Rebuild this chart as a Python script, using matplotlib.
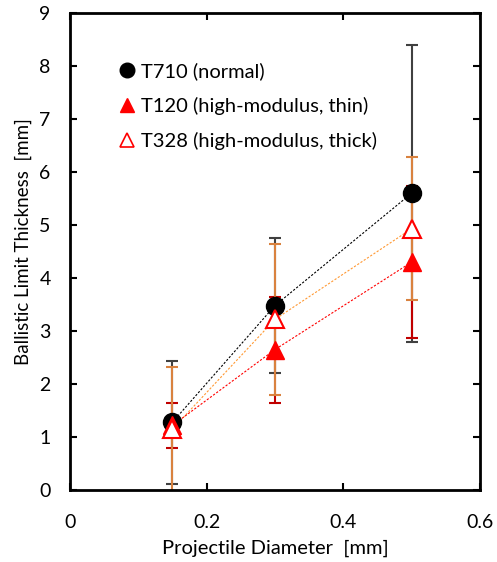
import matplotlib
matplotlib.use("Agg")
import matplotlib.pyplot as plt
from matplotlib.lines import Line2D

plt.rcParams['font.family'] = ['Lato', 'DejaVu Sans']

diam = [0.15, 0.3, 0.5]
t710 = [1.28, 3.48, 5.6]
t710_err = [1.16, 1.28, 2.8]
t120 = [1.22, 2.65, 4.3]
t120_err = [0.43, 1.0, 1.43]
t328 = [1.15, 3.22, 4.93]
t328_err = [1.17, 1.42, 1.35]

labels = ['T710 (normal)', 'T120 (high-modulus, thin)', 'T328 (high-modulus, thick)']

fig = plt.figure(figsize=(4.97, 5.62), dpi=100)
ax = fig.add_axes([0.1408, 0.1281, 0.8250, 0.8488])

ax.errorbar(diam, t710, yerr=t710_err, fmt='none', ecolor='#404040', elinewidth=1.5, capsize=4, capthick=1.5, zorder=2)
ax.errorbar(diam, t120, yerr=t120_err, fmt='none', ecolor='#C00000', elinewidth=1.5, capsize=4, capthick=1.5, zorder=2.1)
ax.errorbar(diam, t328, yerr=t328_err, fmt='none', ecolor='#D9823F', elinewidth=1.5, capsize=4, capthick=1.5, zorder=2.2)

ax.plot(diam, t710, ls=(0, (2, 1.5)), color='black', lw=0.8, zorder=3)
ax.plot(diam, t328, ls=(0, (2, 1.5)), color='#FF9933', lw=0.8, zorder=3)
ax.plot(diam, t120, ls=(0, (2, 1.5)), color='#FF0000', lw=0.8, zorder=3)

ax.plot(diam, t710, 'o', color='black', ms=13, zorder=4)
ax.plot(diam, t120, '^', color='#FF0000', ms=13, zorder=4)
ax.plot(diam, t328, '^', mfc='white', mec='#FF0000', mew=1.5, ms=13, zorder=4.1)

ax.set_xlim(0, 0.6)
ax.set_ylim(0, 9)
ax.set_xticks([0, 0.2, 0.4, 0.6])
ax.set_xticklabels(['0', '0.2', '0.4', '0.6'])
ax.set_yticks(range(10))
ax.tick_params(direction='in', length=5, width=1.5, top=True, right=True, labelsize=14, colors='black')
ax.tick_params(axis='x', pad=17)
ax.tick_params(axis='y', pad=14)
for s in ax.spines.values():
    s.set_linewidth(2)

ax.set_xlabel('Projectile Diameter  [mm]', fontsize=14.5)
ax.set_ylabel('Ballistic Limit Thickness  [mm]', fontsize=13.5)
ax.xaxis.set_label_coords(0.5, -0.104)
ax.yaxis.set_label_coords(-0.093, 0.52)

handles = [
    Line2D([], [], ls='none', marker='o', color='black', ms=10.5),
    Line2D([], [], ls='none', marker='^', color='#FF0000', ms=10.5),
    Line2D([], [], ls='none', marker='^', mfc='white', mec='#FF0000', mew=1.2, ms=10.5),
]
ax.legend(handles, labels, loc='upper left', bbox_to_anchor=(0.075, 0.935), frameon=False,
          fontsize=14.5, handlelength=0.8, handletextpad=0.3, labelspacing=0.85)

fig.savefig('out.png', dpi=100)
